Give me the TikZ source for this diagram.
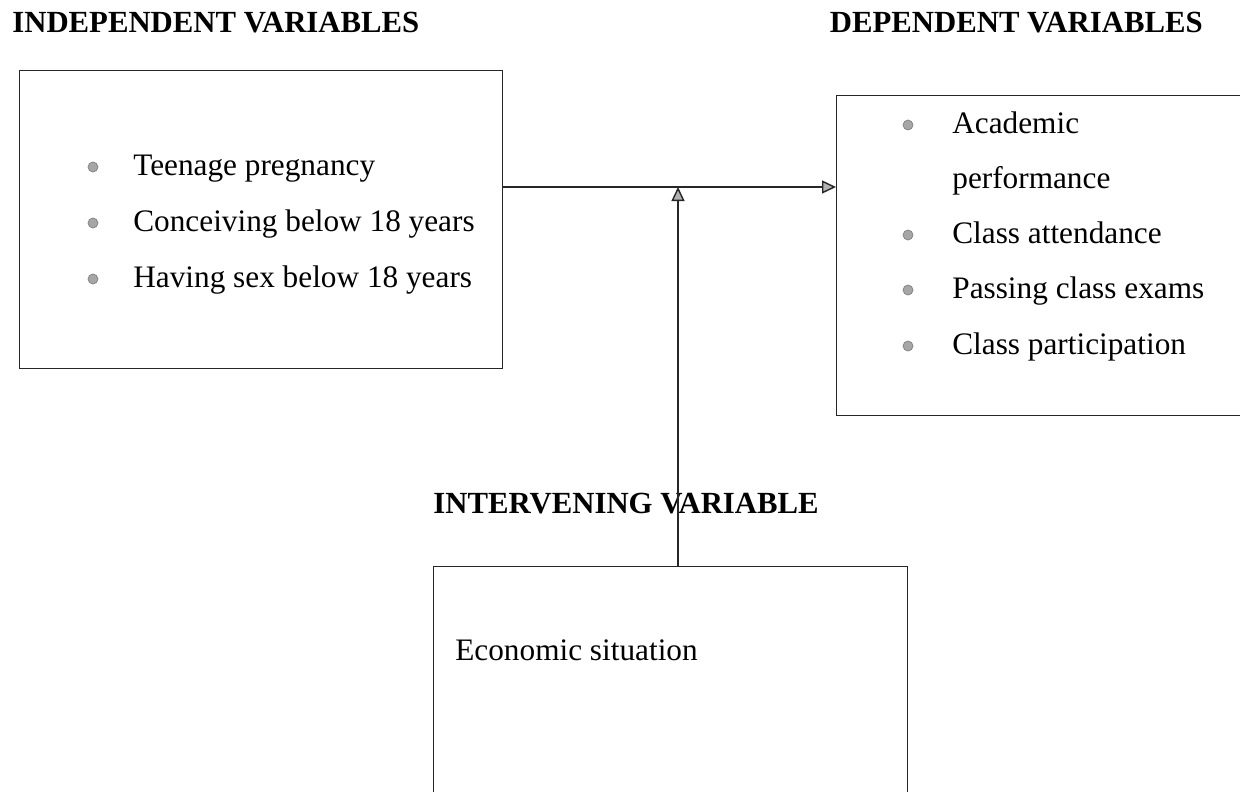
\documentclass[tikz,border=0pt]{standalone}
\usepackage{fontspec}
\setmainfont{Liberation Serif}
\usetikzlibrary{arrows.meta}

\tikzset{
  varbox/.style={draw=black!85, line width=0.8pt, anchor=north west, inner sep=0pt},
  head/.style={anchor=base west, font=\fontsize{17.5}{21}\selectfont\bfseries, inner sep=0pt},
  item/.style={anchor=base west, inner sep=0pt},
  dot/.style={circle, fill=gray!70, draw=gray, inner sep=0pt, minimum size=0.2cm},
  link/.style={line width=0.8pt, draw=black!85,
    -{Triangle[length=0.28cm, width=0.26cm, fill=gray!60]}}
}

\begin{document}
\begin{tikzpicture}[x=0.02cm, y=-0.02cm, font=\fontsize{17.8}{21}\selectfont]
    \useasboundingbox (0, 0) rectangle (1240, 791);
    \clip (0, 0) rectangle (1240, 791);
    % boxes
    \node (indep) [varbox, minimum width=9.66cm, minimum height=5.96cm] at (19, 70) {};
    \node (dep) [varbox, minimum width=8.48cm, minimum height=6.4cm] at (836, 95) {};
    \node (econ) [varbox, minimum width=9.48cm, minimum height=5.2cm] at (433, 566) {};
    % titles
    \node (indhd) [head] at (12, 32) {INDEPENDENT VARIABLES};
    \node (dephd) [head, anchor=base east] at (1203, 32) {DEPENDENT VARIABLES};
    \node (inthd) [head] at (433, 513) {INTERVENING VARIABLE};
    % independent list
    \node (ib1) [dot] at (93, 167) {};
    \node (it1) [item] at (133, 175) {Teenage pregnancy};
    \node (ib2) [dot] at (93, 223) {};
    \node (it2) [item] at (133, 231) {Conceiving below 18 years};
    \node (ib3) [dot] at (93, 279) {};
    \node (it3) [item] at (133, 287) {Having sex below 18 years};
    % dependent list
    \node (db1) [dot] at (908, 125) {};
    \node (dt1) [item] at (952, 133) {Academic};
    \node (dt1b) [item] at (952, 188) {performance};
    \node (db2) [dot] at (908, 235) {};
    \node (dt2) [item] at (952, 243) {Class attendance};
    \node (db3) [dot] at (908, 290) {};
    \node (dt3) [item] at (952, 298) {Passing class exams};
    \node (db4) [dot] at (908, 346) {};
    \node (dt4) [item] at (952, 354) {Class participation};
    % intervening
    \node (et) [item] at (455, 660) {Economic situation};
    % arrows
    \coordinate (meet) at (678, 187);
    \draw[link] (indep.east |- meet) -- (dep.west |- meet);
    \draw[link] (econ.north -| meet) -- (meet);
\end{tikzpicture}
\end{document}
